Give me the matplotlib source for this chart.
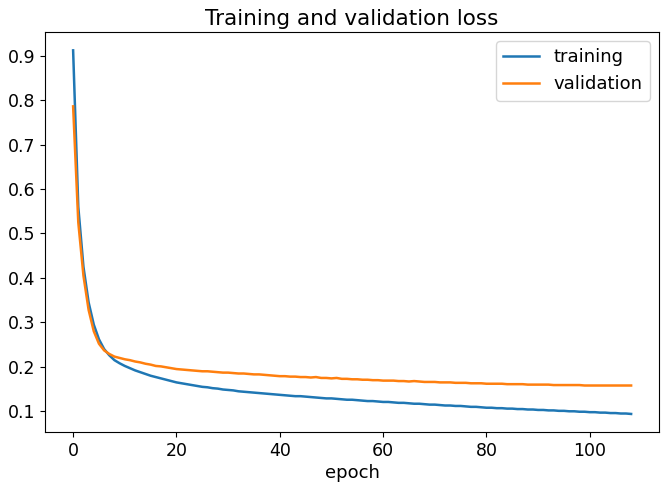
import numpy as np
import matplotlib
matplotlib.use("Agg")
import matplotlib.pyplot as plt

# loss per epoch
training = [
    0.912, 0.560, 0.425, 0.345, 0.295, 0.262, 0.240, 0.226, 0.215, 0.208,
    0.202, 0.197, 0.192, 0.188, 0.184, 0.180, 0.177, 0.174, 0.171, 0.168,
    0.165, 0.163, 0.161, 0.159, 0.157, 0.155, 0.154, 0.152, 0.151, 0.149,
    0.148, 0.147, 0.145, 0.144, 0.143, 0.142, 0.141, 0.140, 0.139, 0.138,
    0.137, 0.136, 0.135, 0.134, 0.134, 0.133, 0.132, 0.131, 0.130, 0.129,
    0.129, 0.128, 0.127, 0.126, 0.126, 0.125, 0.124, 0.123, 0.123, 0.122,
    0.121, 0.121, 0.120, 0.119, 0.119, 0.118, 0.117, 0.117, 0.116, 0.115,
    0.115, 0.114, 0.113, 0.113, 0.112, 0.112, 0.111, 0.110, 0.110, 0.109,
    0.108, 0.108, 0.107, 0.107, 0.106, 0.106, 0.105, 0.105, 0.104, 0.104,
    0.103, 0.103, 0.102, 0.102, 0.101, 0.101, 0.100, 0.100, 0.099, 0.099,
    0.098, 0.098, 0.097, 0.097, 0.096, 0.096, 0.095, 0.095, 0.094,
]
validation = [
    0.786, 0.525, 0.405, 0.328, 0.280, 0.252, 0.237, 0.229, 0.223, 0.220,
    0.217, 0.215, 0.212, 0.210, 0.207, 0.205, 0.202, 0.201, 0.199, 0.197,
    0.195, 0.194, 0.193, 0.192, 0.191, 0.190, 0.190, 0.189, 0.188, 0.187,
    0.187, 0.186, 0.185, 0.185, 0.184, 0.183, 0.183, 0.182, 0.181, 0.180,
    0.179, 0.179, 0.178, 0.178, 0.177, 0.177, 0.176, 0.177, 0.175, 0.175,
    0.174, 0.175, 0.173, 0.173, 0.172, 0.172, 0.171, 0.171, 0.170, 0.170,
    0.169, 0.169, 0.169, 0.168, 0.168, 0.167, 0.168, 0.167, 0.166, 0.166,
    0.166, 0.165, 0.165, 0.165, 0.164, 0.164, 0.164, 0.163, 0.163, 0.163,
    0.162, 0.162, 0.162, 0.162, 0.161, 0.161, 0.161, 0.161, 0.160, 0.160,
    0.160, 0.160, 0.160, 0.159, 0.159, 0.159, 0.159, 0.159, 0.159, 0.158,
    0.158, 0.158, 0.158, 0.158, 0.158, 0.158, 0.158, 0.158, 0.158,
]
epochs = np.arange(len(training))

plt.rcParams['font.size'] = 13
plt.rcParams['xtick.labelsize'] = 12.5
plt.rcParams['ytick.labelsize'] = 12.5

fig = plt.figure(figsize=(6.65, 4.95), dpi=100)
ax = fig.add_axes([0.068, 0.127, 0.923, 0.808])
ax.plot(epochs, training, color='#1f77b4', lw=1.8, label='training')
ax.plot(epochs, validation, color='#ff7f0e', lw=1.8, label='validation')
ax.set_title('Training and validation loss', fontsize=15.5, pad=5)
ax.set_xlabel('epoch', labelpad=3)
ax.legend(loc='upper right')
fig.savefig('out.png', dpi=100)
